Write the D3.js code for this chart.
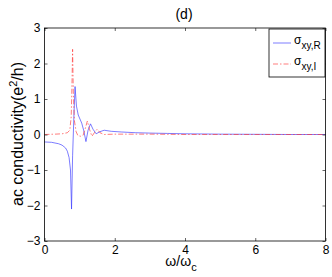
<!DOCTYPE html>
<html>
<head>
<meta charset="utf-8">
<script src="https://cdn.jsdelivr.net/npm/d3@7"></script>
<style>
  body { margin: 0; background: #fff; }
  svg { display: block; font-family: "Liberation Sans", Arial, sans-serif; }
</style>
</head>
<body>
<svg id="chart" width="332" height="277"></svg>
<script>
// Real part sigma_xy,R
const omegaR = [0, 0.2, 0.4, 0.5, 0.6, 0.65, 0.7, 0.74, 0.77, 0.8, 0.84, 0.87, 0.91, 0.96, 1.06, 1.12, 1.18, 1.24, 1.31, 1.38, 1.47, 1.58, 1.7, 1.9, 2.2, 2.6, 3, 3.5, 4, 5, 6, 7, 8];
const sigmaR = [-0.21, -0.22, -0.26, -0.3, -0.38, -0.47, -0.65, -1.0, -2.1, -0.6, 0.6, 1.35, 0.8, 0.55, 0.32, 0.1, -0.2, 0.12, 0.3, 0.15, 0.02, 0.08, 0.12, 0.09, 0.07, 0.05, 0.04, 0.03, 0.02, 0.01, 0.005, 0.0, 0.0];
// Imaginary part sigma_xy,I
const omegaI = [0, 0.3, 0.5, 0.65, 0.72, 0.76, 0.78, 0.8, 0.82, 0.85, 0.9, 0.95, 1.02, 1.1, 1.17, 1.22, 1.28, 1.35, 1.42, 1.5, 1.58, 1.7, 2, 3, 4, 8];
const sigmaI = [0.0, 0.01, 0.02, 0.05, 0.12, 0.5, 1.3, 2.4, 1.2, 0.4, 0.08, -0.03, -0.05, -0.02, 0.2, 0.38, 0.15, -0.05, 0.05, 0.15, 0.05, 0.0, 0.01, 0.01, 0.0, 0.0];
const xTicks = [0, 2, 4, 6, 8];
const yTicks = [-3, -2, -1, 0, 1, 2, 3];

const svg = d3.select("#chart");
const m = { left: 44.5, right: 325.5, top: 28, bottom: 241 };

const x = d3.scaleLinear().domain([0, 8]).range([m.left, m.right]);
const y = d3.scaleLinear().domain([-3, 3]).range([m.bottom, m.top]);

// curves
const line = d3.line().x(d => x(d[0])).y(d => y(d[1]));
svg.append("path")
  .datum(omegaR.map((w, i) => [w, sigmaR[i]]))
  .attr("d", line).attr("fill", "none")
  .attr("stroke", "#3333ff").attr("stroke-width", 0.8).attr("stroke-opacity", 0.8);
svg.append("path")
  .datum(omegaI.map((w, i) => [w, sigmaI[i]]))
  .attr("d", line).attr("fill", "none")
  .attr("stroke", "#ff3333").attr("stroke-width", 0.8).attr("stroke-opacity", 0.8)
  .attr("stroke-dasharray", "5,2,1.5,2");

// axes box with inward ticks on all sides
const tk = 3;
const axStyle = g => {
  g.select(".domain").remove();
  g.selectAll("line").attr("stroke", "#000").attr("stroke-width", 0.6);
  g.selectAll("text").attr("fill", "#000").attr("font-size", "12px");
};
svg.append("g").attr("transform", `translate(0,${m.bottom})`)
  .call(d3.axisBottom(x).tickValues(xTicks).tickSize(-tk).tickPadding(4).tickFormat(d3.format("d")))
  .call(axStyle);
svg.append("g").attr("transform", `translate(0,${m.top})`)
  .call(d3.axisTop(x).tickValues(xTicks).tickSize(-tk).tickFormat(""))
  .call(axStyle);
svg.append("g").attr("transform", `translate(${m.left},0)`)
  .call(d3.axisLeft(y).tickValues(yTicks).tickSize(-tk).tickPadding(4).tickFormat(d => d < 0 ? "\u2212" + (-d) : d))
  .call(axStyle);
svg.append("g").attr("transform", `translate(${m.right},0)`)
  .call(d3.axisRight(y).tickValues(yTicks).tickSize(-tk).tickFormat(""))
  .call(axStyle);
svg.append("rect")
  .attr("x", m.left).attr("y", m.top)
  .attr("width", m.right - m.left).attr("height", m.bottom - m.top)
  .attr("fill", "none").attr("stroke", "#000").attr("stroke-width", 0.8);

// title
svg.append("text").attr("x", 184).attr("y", 19).attr("text-anchor", "middle")
  .attr("font-size", "14px").text("(d)");

// x label
const xl = svg.append("text").attr("x", 181).attr("y", 266).attr("text-anchor", "middle")
  .attr("font-size", "14px");
xl.append("tspan").text("\u03c9/\u03c9");
xl.append("tspan").attr("dy", 5).attr("font-size", "11px").text("c");

// y label
const yl = svg.append("text")
  .attr("transform", "translate(23,134) rotate(-90)")
  .attr("text-anchor", "middle").attr("font-size", "16px");
yl.append("tspan").text("ac conductivity(e");
yl.append("tspan").attr("dy", -6).attr("font-size", "11px").text("2");
yl.append("tspan").attr("dy", 6).text("/h)");

// legend
const lg = svg.append("g");
lg.append("rect").attr("x", 269).attr("y", 29).attr("width", 56).attr("height", 48)
  .attr("fill", "#fff").attr("stroke", "#000").attr("stroke-width", 0.8);
const items = [
  { name: "xy,R", color: "#3333ff", dash: null, y: 43 },
  { name: "xy,I", color: "#ff3333", dash: "5,2,1.5,2", y: 64 }
];
items.forEach(it => {
  lg.append("line").attr("x1", 273).attr("x2", 291).attr("y1", it.y).attr("y2", it.y)
    .attr("stroke", it.color).attr("stroke-width", 0.8).attr("stroke-opacity", 0.8)
    .attr("stroke-dasharray", it.dash);
  const t = lg.append("text").attr("x", 294).attr("y", it.y + 1).attr("font-size", "12px");
  t.append("tspan").text("\u03c3");
  t.append("tspan").attr("dy", 5).attr("font-size", "10px").text(it.name);
});
</script>
</body>
</html>
